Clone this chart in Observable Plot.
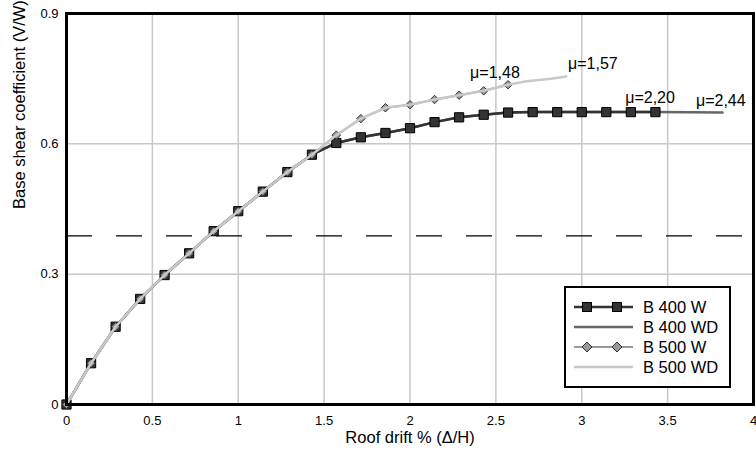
<!DOCTYPE html>
<html>
<head>
<meta charset="utf-8">
<script src="https://cdn.jsdelivr.net/npm/d3@7"></script>
<script src="https://cdn.jsdelivr.net/npm/@observablehq/plot@0.6"></script>
<style>
  html, body { margin: 0; padding: 0; background: #fff; }
  #wrap { position: relative; width: 756px; height: 452px; font-family: "Liberation Sans", Arial, sans-serif; }
  #legend { position: absolute; left: 564px; top: 286px; }
</style>
</head>
<body>
<div id="wrap"><div id="chart"></div><div id="legend"></div></div>
<script>
// Roof drift (%) at each analysis step
const drift = [0, 0.143, 0.286, 0.429, 0.571, 0.714, 0.857, 1.0, 1.143, 1.286, 1.429, 1.571, 1.714,
  1.857, 2.0, 2.143, 2.286, 2.429, 2.571, 2.714, 2.857, 3.0, 3.143, 3.286, 3.429];
// B 400 W (squares)
const b400W = [0, 0.095, 0.179, 0.243, 0.298, 0.348, 0.399, 0.445, 0.490, 0.535, 0.575, 0.602, 0.615,
  0.625, 0.636, 0.650, 0.661, 0.667, 0.672, 0.673, 0.673, 0.673, 0.673, 0.673, 0.673];
// B 400 WD (line, extends further)
const b400WDdrift = [0, 0.143, 0.286, 0.429, 0.571, 0.714, 0.857, 1.0, 1.143, 1.286, 1.429, 1.571, 1.714,
  1.857, 2.0, 2.143, 2.286, 2.429, 2.571, 2.714, 2.857, 3.0, 3.143, 3.286, 3.429, 3.82];
const b400WD = [0, 0.095, 0.179, 0.243, 0.298, 0.348, 0.399, 0.445, 0.490, 0.535, 0.575, 0.602, 0.615,
  0.625, 0.636, 0.650, 0.661, 0.667, 0.672, 0.673, 0.673, 0.673, 0.673, 0.673, 0.673, 0.672];
// B 500 W (diamonds)
const b500Wdrift = [0, 0.143, 0.286, 0.429, 0.571, 0.714, 0.857, 1.0, 1.143, 1.286, 1.429, 1.571, 1.714,
  1.857, 2.0, 2.143, 2.286, 2.429, 2.571];
const b500W = [0, 0.095, 0.179, 0.243, 0.298, 0.348, 0.399, 0.445, 0.490, 0.535, 0.575, 0.620, 0.658,
  0.683, 0.690, 0.702, 0.712, 0.722, 0.736];
// B 500 WD (light line)
const b500WDdrift = [0, 0.143, 0.286, 0.429, 0.571, 0.714, 0.857, 1.0, 1.143, 1.286, 1.429, 1.571, 1.714,
  1.857, 2.0, 2.143, 2.286, 2.429, 2.571, 2.68, 2.82, 2.91];
const b500WD = [0, 0.095, 0.179, 0.243, 0.298, 0.348, 0.399, 0.445, 0.490, 0.535, 0.575, 0.620, 0.658,
  0.683, 0.690, 0.702, 0.712, 0.722, 0.736, 0.744, 0.750, 0.755];
// Ductility annotations
const muLabels = ["μ=1,48", "μ=1,57", "μ=2,20", "μ=2,44"];
const muX = [2.35, 2.92, 3.253, 3.665];
const muY = [0.752, 0.773, 0.693, 0.686];
// Reference level (dashed)
const refLevel = [0.388];
const xTicks = [0, 0.5, 1, 1.5, 2, 2.5, 3, 3.5, 4];
const yTicks = [0, 0.3, 0.6, 0.9];
const seriesNames = ["B 400 W", "B 400 WD", "B 500 W", "B 500 WD"];

const toPts = (xs, ys) => xs.map((x, i) => ({x, y: ys[i]}));
const s400W = toPts(drift, b400W);
const s400WD = toPts(b400WDdrift, b400WD);
const s500W = toPts(b500Wdrift, b500W);
const s500WD = toPts(b500WDdrift, b500WD);
const mu = muLabels.map((t, i) => ({t, x: muX[i], y: muY[i]}));

const col = {w400: "#333333", wd400: "#666666", w500: "#999999", wd500: "#c8c8c8"};

const chart = Plot.plot({
  width: 756,
  height: 452,
  marginLeft: 66,
  marginRight: 3,
  marginTop: 13,
  marginBottom: 48,
  style: {fontFamily: '"Liberation Sans", Arial, sans-serif', background: "#fff", color: "#000"},
  x: {domain: [0, 4]},
  y: {domain: [0, 0.9]},
  marks: [
    Plot.gridX(xTicks, {stroke: "#c8c8c8", strokeOpacity: 1, strokeWidth: 1.5}),
    Plot.gridY(yTicks, {stroke: "#c8c8c8", strokeOpacity: 1, strokeWidth: 1.5}),
    Plot.ruleY(refLevel, {stroke: "#000", strokeWidth: 1.2, strokeDasharray: "26,24"}),
    Plot.axisX({ticks: xTicks, tickSize: 0, tickPadding: 11, tickFormat: d => String(d), fontSize: 13, label: null}),
    Plot.axisY({ticks: yTicks, tickSize: 0, tickPadding: 8, tickFormat: d => String(d), fontSize: 13, label: null}),
    Plot.text(["Roof drift % (Δ/H)"], {frameAnchor: "bottom", dy: 38, fontSize: 16.5, fill: "#000"}),
    Plot.text(["Base shear coefficient (V/W)"], {frameAnchor: "left", dx: -47, rotate: -90, fontSize: 16.5, fill: "#000"}),
    Plot.line(s400WD, {x: "x", y: "y", stroke: col.wd400, strokeWidth: 2.5}),
    Plot.line(s400W, {x: "x", y: "y", stroke: col.w400, strokeWidth: 2.5}),
    Plot.dot(s400W, {x: "x", y: "y", symbol: "square", r: 5.2, fill: col.w400, stroke: "#000", strokeWidth: 1}),
    Plot.line(s500W, {x: "x", y: "y", stroke: col.w500, strokeWidth: 2}),
    Plot.dot(s500W, {x: "x", y: "y", symbol: "diamond2", r: 3.8, fill: col.w500, stroke: "#333", strokeWidth: 1}),
    Plot.line(s500WD, {x: "x", y: "y", stroke: col.wd500, strokeWidth: 2.5}),
    Plot.text(mu, {x: "x", y: "y", text: "t", textAnchor: "start", lineAnchor: "bottom", fontSize: 16, fill: "#000"}),
    Plot.frame({stroke: "#000", strokeWidth: 3})
  ]
});
document.getElementById("chart").appendChild(chart);

// Legend (boxed, inside plot area)
const lg = d3.select("#legend").append("svg").attr("width", 168).attr("height", 103)
  .style("font-family", '"Liberation Sans", Arial, sans-serif');
lg.append("rect").attr("x", 1).attr("y", 1).attr("width", 165).attr("height", 100)
  .attr("fill", "#fff").attr("stroke", "#000").attr("stroke-width", 2);
const legendStyles = [
  {stroke: col.w400, w: 2.5, marker: "square"},
  {stroke: col.wd400, w: 2.5, marker: null},
  {stroke: col.w500, w: 2, marker: "diamond"},
  {stroke: col.wd500, w: 2.5, marker: null}
];
seriesNames.forEach((name, i) => {
  const cy = 21 + i * 20;
  const st = legendStyles[i];
  lg.append("line").attr("x1", 10).attr("x2", 69).attr("y1", cy).attr("y2", cy)
    .attr("stroke", st.stroke).attr("stroke-width", st.w);
  [23, 53].forEach(mx => {
    if (st.marker === "square") {
      lg.append("rect").attr("x", mx - 4.5).attr("y", cy - 4.5).attr("width", 9).attr("height", 9)
        .attr("fill", col.w400).attr("stroke", "#000").attr("stroke-width", 1);
    } else if (st.marker === "diamond") {
      lg.append("path").attr("d", `M${mx},${cy - 5}L${mx + 5},${cy}L${mx},${cy + 5}L${mx - 5},${cy}Z`)
        .attr("fill", col.w500).attr("stroke", "#333").attr("stroke-width", 1);
    }
  });
  lg.append("text").attr("x", 79).attr("y", cy).attr("dy", "0.36em")
    .attr("font-size", 16.5).attr("fill", "#000").text(name);
});
</script>
</body>
</html>
